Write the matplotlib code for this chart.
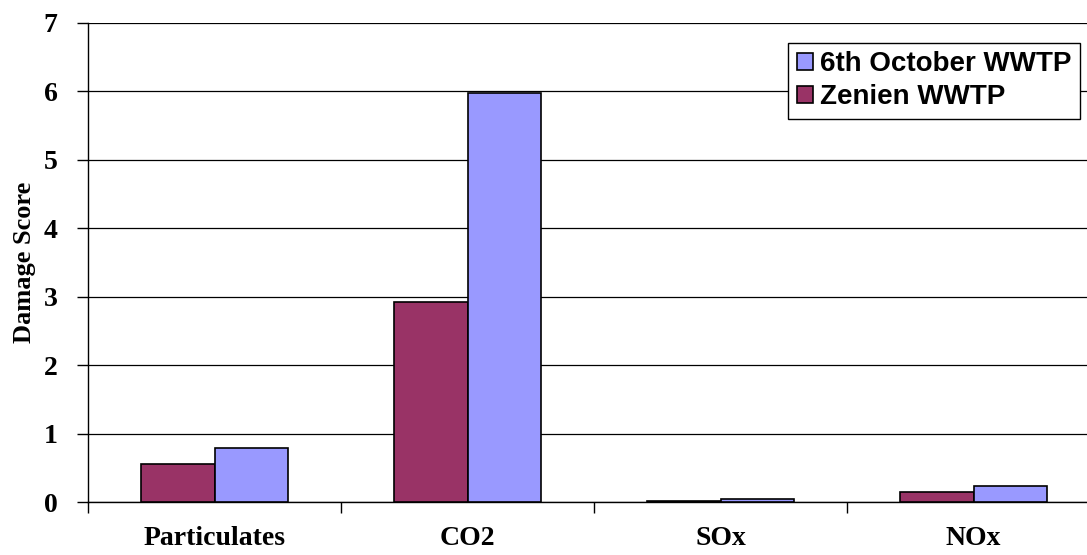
import numpy as np
import matplotlib
matplotlib.use("Agg")
import matplotlib.pyplot as plt

categories = ["Particulates", "CO2", "SOx", "NOx"]
zenien = [0.555, 2.92, 0.015, 0.15]
october = [0.79, 5.97, 0.05, 0.24]
yticks = [0, 1, 2, 3, 4, 5, 6, 7]

serif = ["Liberation Serif", "DejaVu Serif"]
sans = ["Liberation Sans", "DejaVu Sans"]

fig = plt.figure(figsize=(10.87, 5.55), dpi=100)
ax = fig.add_axes([88 / 1087, 53 / 555, 1 - 88 / 1087, 479 / 555])

x = np.arange(len(categories))
w = 0.29
ax.bar(x - w / 2, zenien, w, color="#993366", edgecolor="black", linewidth=1.2,
       label="Zenien WWTP", zorder=3)
ax.bar(x + w / 2, october, w, color="#9999FF", edgecolor="black", linewidth=1.2,
       label="6th October WWTP", zorder=3)

ax.set_yticks(yticks)
ax.set_yticklabels([str(t) for t in yticks], fontfamily=serif, fontweight="bold", fontsize=20)
ax.yaxis.grid(True, color="black", linewidth=0.9, zorder=0)
ax.set_axisbelow(True)

# category labels centred, ticks between categories
ax.set_xticks(x)
ax.set_xticklabels(categories, fontfamily=serif, fontweight="bold", fontsize=20)
ax.tick_params(axis="x", which="major", length=0, pad=17)
ax.set_xticks(np.arange(-0.5, 4, 1.0), minor=True)
ax.tick_params(axis="x", which="minor", length=8, width=1, direction="out")
ax.tick_params(axis="y", length=8, width=1, direction="out", pad=14)

# limits after the ticks, set_xticks widens the view otherwise
ax.set_ylim(0, 7)
ax.set_xlim(-0.5, 3.5 - 13 / 253)

for s in ["top", "right"]:
    ax.spines[s].set_visible(False)
ax.spines["left"].set_linewidth(1)
ax.spines["bottom"].set_linewidth(1)

ax.set_ylabel("Damage Score", fontfamily=serif, fontweight="bold", fontsize=19)
ax.yaxis.set_label_coords(-0.052, 0.5)

handles, labels = ax.get_legend_handles_labels()
leg = ax.legend(handles[::-1], labels[::-1], loc="upper right",
                bbox_to_anchor=(723 / 1087, 0, (1080 - 723) / 1087, 1 - 43 / 555),
                bbox_transform=fig.transFigure,
                prop={"family": sans, "weight": "bold", "size": 20},
                frameon=True, fancybox=False, edgecolor="black", framealpha=1,
                handlelength=0.6, handleheight=0.6, handletextpad=0.25,
                borderpad=0.3, labelspacing=0.25, borderaxespad=0)
leg.get_frame().set_linewidth(1)

fig.savefig("out.png", dpi=100)
